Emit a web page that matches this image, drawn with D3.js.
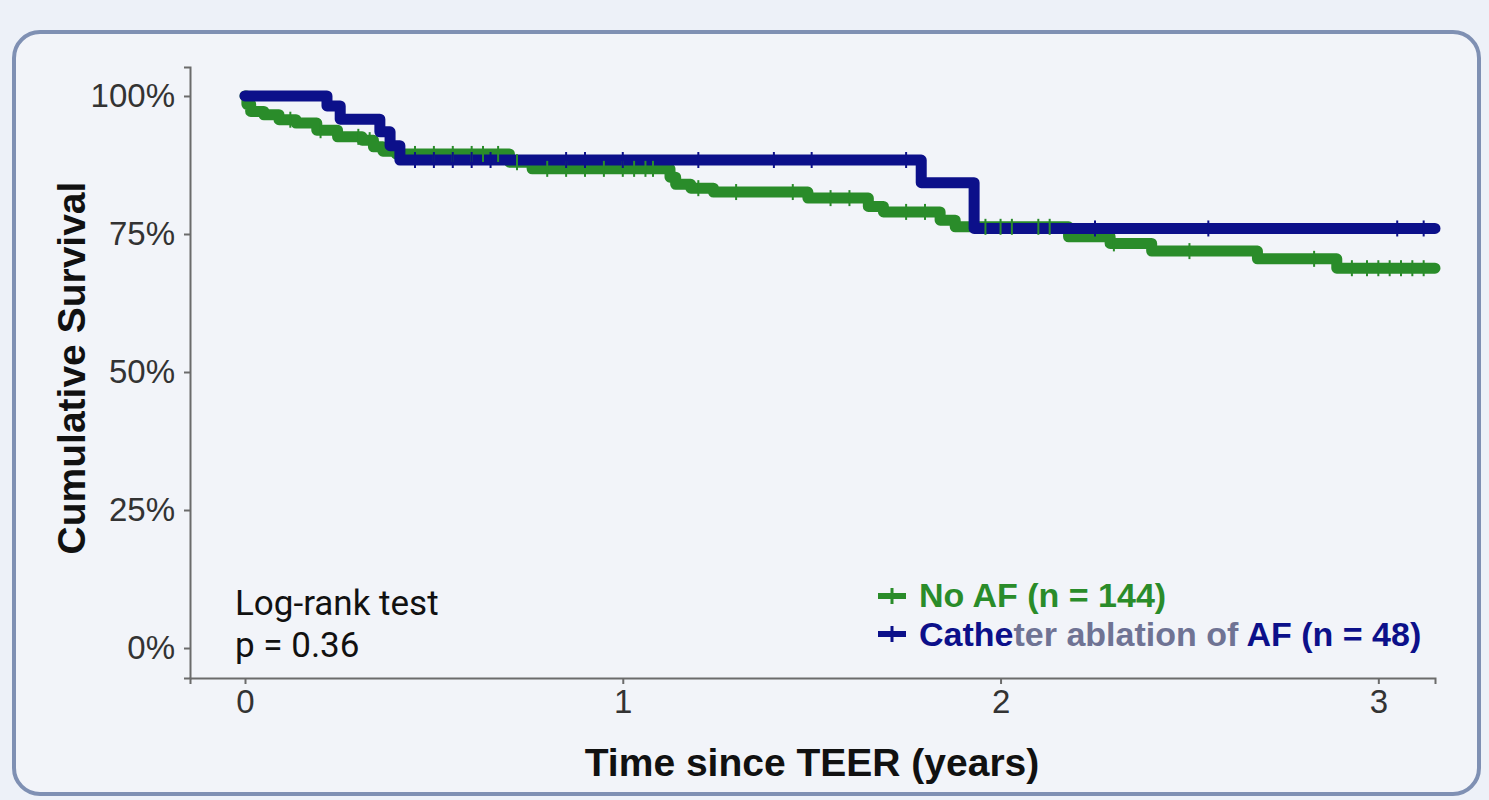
<!DOCTYPE html>
<html><head><meta charset="utf-8">
<script src="https://cdn.jsdelivr.net/npm/d3@7"></script>
<style>
html,body{margin:0;padding:0;background:#edf1f8;}
svg{display:block;}
</style></head>
<body>
<svg id="chart" width="1489" height="800"></svg>
<script>
// ---- data ----
const noAF_time = [0, 0.005, 0.015, 0.05, 0.09, 0.135, 0.19, 0.245, 0.31, 0.34, 0.365, 0.40, 0.70, 0.76, 1.125, 1.14, 1.18, 1.24, 1.49, 1.65, 1.69, 1.84, 1.88, 2.18, 2.29, 2.40, 2.68, 2.89, 3.15];
const noAF_surv = [1.0, 0.985, 0.972, 0.966, 0.957, 0.951, 0.938, 0.926, 0.920, 0.908, 0.900, 0.895, 0.880, 0.868, 0.853, 0.840, 0.833, 0.826, 0.815, 0.800, 0.790, 0.775, 0.763, 0.745, 0.733, 0.719, 0.705, 0.688, 0.688];
const ablation_time = [0, 0.217, 0.252, 0.357, 0.384, 0.41, 1.79, 1.93, 3.15];
const ablation_surv = [1.0, 0.982, 0.958, 0.935, 0.910, 0.884, 0.843, 0.760, 0.760];
const noAF_censor = [0.12, 0.2, 0.3, 0.33, 0.45, 0.5, 0.55, 0.6, 0.63, 0.67, 0.72, 0.8, 0.85, 0.9, 0.95, 1.0, 1.03, 1.06, 1.08, 1.2, 1.3, 1.45, 1.55, 1.6, 1.75, 1.8, 1.96, 2.0, 2.03, 2.1, 2.13, 2.3, 2.5, 2.83, 2.93, 2.97, 3.0, 3.03, 3.06, 3.09, 3.12];
const ablation_censor = [0.45, 0.5, 0.55, 0.6, 0.65, 0.85, 0.9, 1.0, 1.2, 1.4, 1.5, 1.75, 2.25, 2.55, 3.05, 3.12];
const xTicks = [0, 1, 2, 3];
const yTicks = [0, 0.25, 0.5, 0.75, 1.0];
const seriesNames = ["No AF (n = 144)", "Catheter ablation of AF (n = 48)"];
const colors = ["#2a8c2a", "#0c108a"];

const svg = d3.select("#chart");
// panel
svg.append("rect").attr("x", 14).attr("y", 32).attr("width", 1465).attr("height", 762)
  .attr("rx", 26).attr("fill", "#f2f4f9").attr("stroke", "#7f90b3").attr("stroke-width", 4);

const x = d3.scaleLinear().domain([-0.1456, 3.15]).range([190, 1435]);
const y = d3.scaleLinear().domain([-0.0543, 1.0525]).range([678, 67]);

// axes
const xAxis = d3.axisBottom(x).tickValues(xTicks).tickFormat(d3.format("d")).tickSize(6).tickPadding(6);
const yAxis = d3.axisLeft(y).tickValues(yTicks).tickFormat(d => Math.round(d*100) + "%").tickSize(6).tickPadding(9);
const gx = svg.append("g").attr("transform", "translate(0,678)").call(xAxis);
const gy = svg.append("g").attr("transform", "translate(190,0)").call(yAxis);
[gx, gy].forEach(g => {
  g.select(".domain").attr("stroke", "#6b6b6b").attr("stroke-width", 2);
  g.selectAll(".tick line").attr("stroke", "#6b6b6b").attr("stroke-width", 2);
  g.selectAll(".tick text").attr("fill", "#333").style("font-family", "'Liberation Sans', Arial, sans-serif").style("font-size", "33px");
});

// curves
const line = d3.line().x(d => x(d[0])).y(d => y(d[1])).curve(d3.curveStepAfter);
const series = [
  {t: noAF_time, s: noAF_surv, c: noAF_censor, col: colors[0]},
  {t: ablation_time, s: ablation_surv, c: ablation_censor, col: colors[1]}
];
series.forEach(sr => {
  const pts = sr.t.map((t, i) => [t, sr.s[i]]);
  svg.append("path").attr("d", line(pts)).attr("fill", "none").attr("stroke", sr.col)
    .attr("stroke-width", 11).attr("stroke-linejoin", "round").attr("stroke-linecap", "round");
});
series.forEach(sr => {
  const survAt = t => { let v = sr.s[0]; for (let i = 0; i < sr.t.length; i++) { if (sr.t[i] <= t) v = sr.s[i]; } return v; };
  const g = svg.append("g").attr("stroke", sr.col).attr("stroke-width", 2);
  sr.c.forEach(t => {
    const cx = x(t), cy = y(survAt(t));
    g.append("line").attr("x1", cx).attr("x2", cx).attr("y1", cy - 8).attr("y2", cy + 8);
  });
});

// axis titles
svg.append("text").attr("x", 812).attr("y", 776).attr("text-anchor", "middle")
  .style("font-family", "'Liberation Sans', Arial, sans-serif").style("font-weight", "bold").style("font-size", "39px")
  .attr("fill", "#111").text("Time since TEER (years)");
svg.append("text").attr("transform", "translate(85,368) rotate(-90)").attr("text-anchor", "middle")
  .style("font-family", "'Liberation Sans', Arial, sans-serif").style("font-weight", "bold").style("font-size", "39px")
  .attr("fill", "#111").text("Cumulative Survival");

// log-rank annotation
const ann = svg.append("text").style("font-family", "Roboto, sans-serif").style("font-size", "35px").attr("fill", "#111");
ann.append("tspan").attr("x", 235).attr("y", 615).text("Log-rank test");
ann.append("tspan").attr("x", 235).attr("y", 657).text("p = 0.36");

// legend
const legY = [596, 634];
series.forEach((sr, i) => {
  const g = svg.append("g");
  g.append("line").attr("x1", 878).attr("x2", 906).attr("y1", legY[i]).attr("y2", legY[i]).attr("stroke", sr.col).attr("stroke-width", 6);
  g.append("line").attr("x1", 892).attr("x2", 892).attr("y1", legY[i] - 8).attr("y2", legY[i] + 8).attr("stroke", sr.col).attr("stroke-width", 3);
});
const lt = svg.append("text").style("font-family", "'Liberation Sans', Arial, sans-serif").style("font-weight", "bold").style("font-size", "34px");
lt.append("tspan").attr("x", 919).attr("y", 607).attr("fill", colors[0]).text(seriesNames[0]);
const lt2 = svg.append("text").style("font-family", "'Liberation Sans', Arial, sans-serif").style("font-weight", "bold").style("font-size", "34px").attr("x", 919).attr("y", 646);
lt2.append("tspan").attr("fill", colors[1]).text("Cathe");
lt2.append("tspan").attr("fill", "#6f7394").text("ter ablation of ");
lt2.append("tspan").attr("fill", colors[1]).text("AF (n = 48)");
</script>
</body></html>
